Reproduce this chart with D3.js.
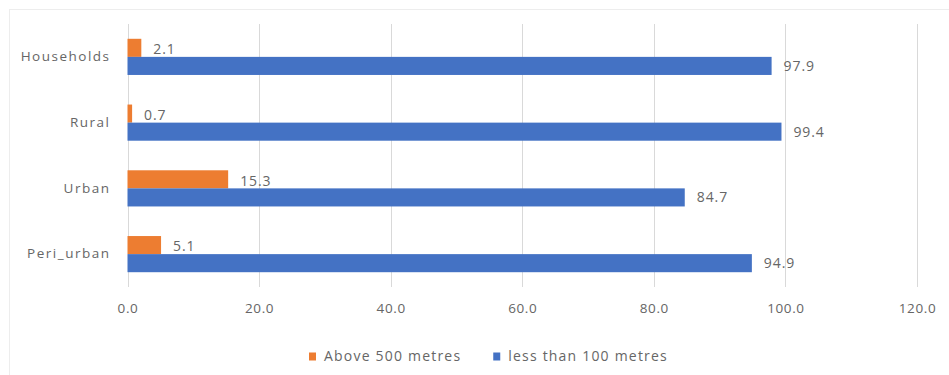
<!DOCTYPE html>
<html>
<head>
<meta charset="utf-8">
<script src="https://cdn.jsdelivr.net/npm/d3@7"></script>
<style>
  html, body { margin: 0; padding: 0; background: #fff; }
  svg { display: block; }
  text { font-family: "Open Sans", "Liberation Sans", sans-serif; fill: #666; }
</style>
</head>
<body>
<svg id="chart" width="949" height="375"></svg>
<script>
// Distance to water source, by area type (%)
const categories = ["Households", "Rural", "Urban", "Peri_urban"];
const seriesNames = ["Above 500 metres", "less than 100 metres"];
const above500 = [2.1, 0.7, 15.3, 5.1];
const lessThan100 = [97.9, 99.4, 84.7, 94.9];
const xTicks = [0, 20, 40, 60, 80, 100, 120];
const colors = ["#ED7D31", "#4472C4"];

const series = [above500, lessThan100];

const svg = d3.select("#chart");
const margin = { left: 127.5, right: 32, top: 24, bottom: 88 };
const W = 949, H = 375;

// faint chart-area frame
svg.append("rect")
  .attr("x", 9.5).attr("y", 9.5)
  .attr("width", W + 20).attr("height", H + 20)
  .attr("fill", "none").attr("stroke", "#ededed");

const x = d3.scaleLinear().domain([0, 120]).range([margin.left, W - margin.right]);
const y = d3.scaleBand().domain(categories)
  .range([margin.top, H - margin.bottom])
  .paddingInner(0.45).paddingOuter(0.225);
const ySub = d3.scaleBand().domain(d3.range(series.length)).range([0, y.bandwidth()]);

// vertical gridlines
svg.append("g").selectAll("line").data(xTicks).join("line")
  .attr("x1", d => Math.round(x(d)) + 0.5).attr("x2", d => Math.round(x(d)) + 0.5)
  .attr("y1", margin.top).attr("y2", H - margin.bottom)
  .attr("stroke", "#d9d9d9").attr("stroke-width", 1);

// x axis tick labels
const xAxis = d3.axisBottom(x).tickValues(xTicks).tickFormat(d3.format(".1f")).tickSize(0).tickPadding(16);
const gx = svg.append("g").attr("transform", `translate(0,${H - margin.bottom})`).call(xAxis);
gx.select(".domain").remove();
gx.selectAll("text").attr("font-size", 13.5).style("font-family", "'Open Sans', sans-serif").attr("fill", "#666")
  .attr("letter-spacing", 0.6);

// category labels
const yAxis = d3.axisLeft(y).tickSize(0).tickPadding(17);
const gy = svg.append("g").attr("transform", `translate(${margin.left},0)`).call(yAxis);
gy.select(".domain").remove();
gy.selectAll("text").attr("font-size", 13.5).style("font-family", "'Open Sans', sans-serif").attr("fill", "#666")
  .attr("letter-spacing", 1.5);

// bars and value labels
series.forEach((vals, si) => {
  const g = svg.append("g");
  g.selectAll("rect").data(vals).join("rect")
    .attr("x", x(0))
    .attr("y", (d, i) => y(categories[i]) + ySub(si))
    .attr("width", d => x(d) - x(0))
    .attr("height", ySub.bandwidth())
    .attr("fill", colors[si]);
  g.selectAll("text").data(vals).join("text")
    .attr("x", d => x(d) + 12)
    .attr("y", (d, i) => y(categories[i]) + ySub(si) + ySub.bandwidth() / 2 + (si === 0 ? 1.5 : 0))
    .attr("dy", "0.35em")
    .attr("font-size", 14)
    .attr("letter-spacing", 0.9)
    .text(d => d3.format(".1f")(d));
});

// legend
const legend = svg.append("g").attr("transform", `translate(309,356)`);
let lx = 0;
seriesNames.forEach((name, i) => {
  const item = legend.append("g").attr("transform", `translate(${lx},0)`);
  item.append("rect").attr("x", 0).attr("y", -3.5).attr("width", 7).attr("height", 8).attr("fill", colors[i]);
  const t = item.append("text").attr("x", 15).attr("dy", "0.35em").attr("font-size", 14)
    .attr("letter-spacing", 1.2).text(name);
  lx += 15 + t.node().getComputedTextLength() + 32;
});
</script>
</body>
</html>
